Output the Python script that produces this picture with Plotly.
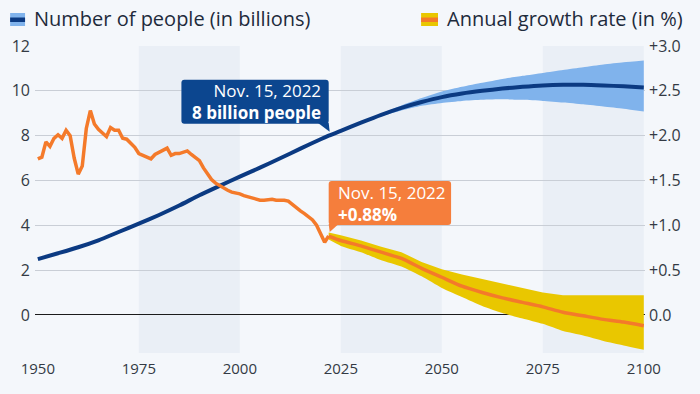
import plotly.graph_objects as go

# ---------------- data ----------------
pop_years = [1950, 1955, 1960, 1965, 1970, 1975, 1980, 1985, 1990, 1995, 2000, 2005, 2010,
             2015, 2020, 2022, 2025, 2030, 2035, 2040, 2045, 2050, 2055, 2060, 2065, 2070,
             2075, 2080, 2085, 2090, 2095, 2100]
pop_values = [2.49, 2.75, 3.02, 3.33, 3.70, 4.07, 4.46, 4.88, 5.34, 5.76, 6.17, 6.57, 6.99,
              7.42, 7.84, 8.00, 8.21, 8.58, 8.93, 9.24, 9.50, 9.72, 9.88, 10.00, 10.10, 10.18,
              10.24, 10.27, 10.27, 10.24, 10.20, 10.15]

band_pop_years = [2022, 2025, 2030, 2035, 2040, 2045, 2050, 2055, 2060, 2065, 2070, 2075,
                  2080, 2085, 2090, 2095, 2100]
band_pop_upper = [8.00, 8.23, 8.62, 8.99, 9.35, 9.68, 9.97, 10.18, 10.36, 10.53, 10.67, 10.80,
                  10.93, 11.05, 11.17, 11.27, 11.35]
band_pop_lower = [8.00, 8.19, 8.54, 8.86, 9.12, 9.33, 9.46, 9.55, 9.60, 9.62, 9.60, 9.55,
                  9.48, 9.40, 9.30, 9.20, 9.08]

hist_years = list(range(1950, 2023))
hist_growth = [1.74, 1.76, 1.93, 1.88, 1.97, 2.01, 1.97, 2.06, 2.00, 1.75,
               1.57, 1.66, 2.08, 2.28, 2.13, 2.07, 2.03, 1.99, 2.09, 2.06,
               2.06, 1.97, 1.96, 1.92, 1.87, 1.80, 1.78, 1.76, 1.74, 1.79,
               1.81, 1.83, 1.86, 1.78, 1.80, 1.80, 1.82, 1.83, 1.79, 1.76,
               1.72, 1.64, 1.57, 1.51, 1.47, 1.44, 1.41, 1.39, 1.37, 1.36,
               1.35, 1.33, 1.32, 1.31, 1.30, 1.28, 1.28, 1.29, 1.29, 1.28,
               1.28, 1.28, 1.27, 1.23, 1.19, 1.16, 1.13, 1.10, 1.06, 1.00,
               0.90, 0.81, 0.88]

proj_years = [2022, 2025, 2030, 2035, 2040, 2045, 2050, 2055, 2060, 2065, 2070, 2075,
              2080, 2085, 2090, 2095, 2100]
proj_growth = [0.88, 0.83, 0.77, 0.70, 0.63, 0.52, 0.42, 0.32, 0.25, 0.19, 0.14, 0.09,
               0.03, -0.01, -0.05, -0.08, -0.12]
band_gr_upper = [0.92, 0.89, 0.83, 0.76, 0.70, 0.59, 0.51, 0.45, 0.40, 0.35, 0.30, 0.25,
                 0.22, 0.22, 0.22, 0.22, 0.22]
band_gr_lower = [0.84, 0.77, 0.70, 0.61, 0.54, 0.43, 0.30, 0.20, 0.10, 0.02, -0.04, -0.10,
                 -0.18, -0.23, -0.29, -0.34, -0.39]

x_ticks = [1950, 1975, 2000, 2025, 2050, 2075, 2100]
left_ticks = [0, 2, 4, 6, 8, 10, 12]
right_ticks = [0.0, 0.5, 1.0, 1.5, 2.0, 2.5, 3.0]
right_ticktext = ["0.0", "+0.5", "+1.0", "+1.5", "+2.0", "+2.5", "+3.0"]
shade_periods = [(1975, 2000), (2025, 2050), (2075, 2100)]

ann_year = 2022
ann_pop_text = "Nov. 15, 2022<br><b>8 billion people</b>"
ann_gr_text = "Nov. 15, 2022<br><b>+0.88%</b>"

# ---------------- style ----------------
BG = "#f4f7fb"
SHADE = "#eaeff6"
NAVY = "#0b3a82"
NAVY_BOX = "#0c468f"
LIGHTBLUE = "#80b3ec"
ORANGE = "#f47a2a"
ORANGE_BOX = "#f57e3c"
YELLOW = "#e9c700"
FONT = "Open Sans"
TXT = "#333a44"

W, H = 700, 394
L, R, T, B = 32, 645, 46, 353
XR = [1949.3, 2100.3]
YL = [-1.7, 12.0]
YR = [YL[0] / 4, YL[1] / 4]


def px(xp):
    return (xp - L) / (R - L)


def py(yp):
    return (B - yp) / (B - T)


def data_to_px(xv, yv, rng):
    xp = L + (xv - XR[0]) / (XR[1] - XR[0]) * (R - L)
    yp = B - (yv - rng[0]) / (rng[1] - rng[0]) * (B - T)
    return xp, yp


def round_rect(x0, y0, x1, y1, r=3):
    pts = [
        f"M {px(x0 + r)},{py(y0)}", f"L {px(x1 - r)},{py(y0)}",
        f"Q {px(x1)},{py(y0)} {px(x1)},{py(y0 + r)}", f"L {px(x1)},{py(y1 - r)}",
        f"Q {px(x1)},{py(y1)} {px(x1 - r)},{py(y1)}", f"L {px(x0 + r)},{py(y1)}",
        f"Q {px(x0)},{py(y1)} {px(x0)},{py(y1 - r)}", f"L {px(x0)},{py(y0 + r)}",
        f"Q {px(x0)},{py(y0)} {px(x0 + r)},{py(y0)}", "Z",
    ]
    return " ".join(pts)


fig = go.Figure()

# population band + line
fig.add_trace(go.Scatter(x=band_pop_years, y=band_pop_upper, mode="lines",
                         line=dict(width=0, color=LIGHTBLUE, shape="spline", smoothing=0.5),
                         showlegend=False, hoverinfo="skip"))
fig.add_trace(go.Scatter(x=band_pop_years, y=band_pop_lower, mode="lines", fill="tonexty",
                         fillcolor=LIGHTBLUE,
                         line=dict(width=0, color=LIGHTBLUE, shape="spline", smoothing=0.5),
                         showlegend=False, hoverinfo="skip"))
fig.add_trace(go.Scatter(x=pop_years, y=pop_values, mode="lines",
                         line=dict(color=NAVY, width=4, shape="spline", smoothing=0.6),
                         showlegend=False))

# growth band + lines
fig.add_trace(go.Scatter(x=proj_years, y=band_gr_upper, mode="lines", yaxis="y2",
                         line=dict(width=0, color=YELLOW), showlegend=False, hoverinfo="skip"))
fig.add_trace(go.Scatter(x=proj_years, y=band_gr_lower, mode="lines", yaxis="y2",
                         fill="tonexty", fillcolor=YELLOW,
                         line=dict(width=0, color=YELLOW, shape="spline", smoothing=0.5),
                         showlegend=False, hoverinfo="skip"))
fig.add_trace(go.Scatter(x=hist_years, y=hist_growth, mode="lines", yaxis="y2",
                         line=dict(color=ORANGE, width=3.5), showlegend=False))
fig.add_trace(go.Scatter(x=proj_years, y=proj_growth, mode="lines", yaxis="y2",
                         line=dict(color=ORANGE, width=3.5, shape="spline", smoothing=0.6),
                         showlegend=False))

shapes = []
for a, b in shade_periods:
    shapes.append(dict(type="rect", xref="x", yref="paper", x0=a, x1=b, y0=0, y1=1,
                       fillcolor=SHADE, line=dict(width=0), layer="below"))

# legend icons
shapes += [
    dict(type="rect", xref="paper", yref="paper", x0=px(7), x1=px(22), y0=py(26), y1=py(13),
         fillcolor=LIGHTBLUE, line=dict(width=0)),
    dict(type="rect", xref="paper", yref="paper", x0=px(7), x1=px(22), y0=py(22), y1=py(17.5),
         fillcolor=NAVY, line=dict(width=0)),
    dict(type="rect", xref="paper", yref="paper", x0=px(420), x1=px(437), y0=py(26), y1=py(13),
         fillcolor=YELLOW, line=dict(width=0)),
    dict(type="rect", xref="paper", yref="paper", x0=px(420), x1=px(437), y0=py(22), y1=py(17.5),
         fillcolor=ORANGE, line=dict(width=0)),
]

# callout boxes and tails, positioned relative to the 2022 data points
pop_at = pop_values[pop_years.index(ann_year)]
gr_at = hist_growth[hist_years.index(ann_year)]
bx, by = data_to_px(ann_year, pop_at, YL)
ox, oy = data_to_px(ann_year, gr_at, YR)

BOX_H = 44
bb = by - 12          # blue box bottom
bt = bb - BOX_H       # blue box top
bl = bx - 148         # blue box left
shapes.append(dict(type="path", xref="paper", yref="paper", path=round_rect(bl, bt, bx, bb),
                   fillcolor=NAVY_BOX, line=dict(width=0)))
shapes.append(dict(type="path", xref="paper", yref="paper",
                   path=f"M {px(bx-11)},{py(bb-1)} L {px(bx)},{py(bb-1)} "
                        f"L {px(bx+1)},{py(bb+8)} Z",
                   fillcolor=NAVY_BOX, line=dict(width=0)))

ob = oy - 11          # orange box bottom
ot = ob - BOX_H
orr = ox + 123
shapes.append(dict(type="path", xref="paper", yref="paper", path=round_rect(ox, ot, orr, ob),
                   fillcolor=ORANGE_BOX, line=dict(width=0)))
shapes.append(dict(type="path", xref="paper", yref="paper",
                   path=f"M {px(ox)},{py(ob-1)} L {px(ox+10)},{py(ob-1)} "
                        f"L {px(ox+1)},{py(ob+7)} Z",
                   fillcolor=ORANGE_BOX, line=dict(width=0)))

annotations = [
    dict(text="Number of people (in billions)", xref="paper", yref="paper", x=px(29), y=py(19),
         xanchor="left", yanchor="middle", showarrow=False,
         font=dict(family=FONT, size=20, color="#1e2b3c")),
    dict(text="Annual growth rate (in %)", xref="paper", yref="paper", x=px(444), y=py(19),
         xanchor="left", yanchor="middle", showarrow=False,
         font=dict(family=FONT, size=20, color="#1e2b3c")),
    dict(text=ann_pop_text, xref="paper", yref="paper", x=px(bx - 6), y=py(bt + BOX_H / 2),
         xanchor="right", yanchor="middle", align="right", showarrow=False,
         font=dict(family=FONT, size=17, color="white")),
    dict(text=ann_gr_text, xref="paper", yref="paper", x=px(ox + 7), y=py(ot + BOX_H / 2),
         xanchor="left", yanchor="middle", align="left", showarrow=False,
         font=dict(family=FONT, size=17, color="white")),
]

fig.update_layout(
    width=W, height=H,
    margin=dict(l=L, r=W - R, t=T, b=H - B, pad=0),
    paper_bgcolor=BG, plot_bgcolor=BG,
    showlegend=False,
    font=dict(family=FONT, size=15, color=TXT),
    xaxis=dict(range=XR, tickvals=x_ticks, showgrid=False, zeroline=False, ticks="",
               showline=False, ticklabelstandoff=5, tickfont=dict(size=15, color=TXT)),
    yaxis=dict(range=YL, tickvals=left_ticks, showgrid=True, gridcolor="#c9ced6", gridwidth=1,
               zeroline=True, zerolinecolor="#1b1b1b", zerolinewidth=1, ticks="",
               ticklabelstandoff=4, tickfont=dict(size=16, color=TXT)),
    yaxis2=dict(range=YR, tickvals=right_ticks, ticktext=right_ticktext, overlaying="y",
                side="right", showgrid=False, zeroline=False, ticks="", ticklabelstandoff=3,
                tickfont=dict(size=16, color=TXT)),
    shapes=shapes,
    annotations=annotations,
)

fig.write_html("out.html")
